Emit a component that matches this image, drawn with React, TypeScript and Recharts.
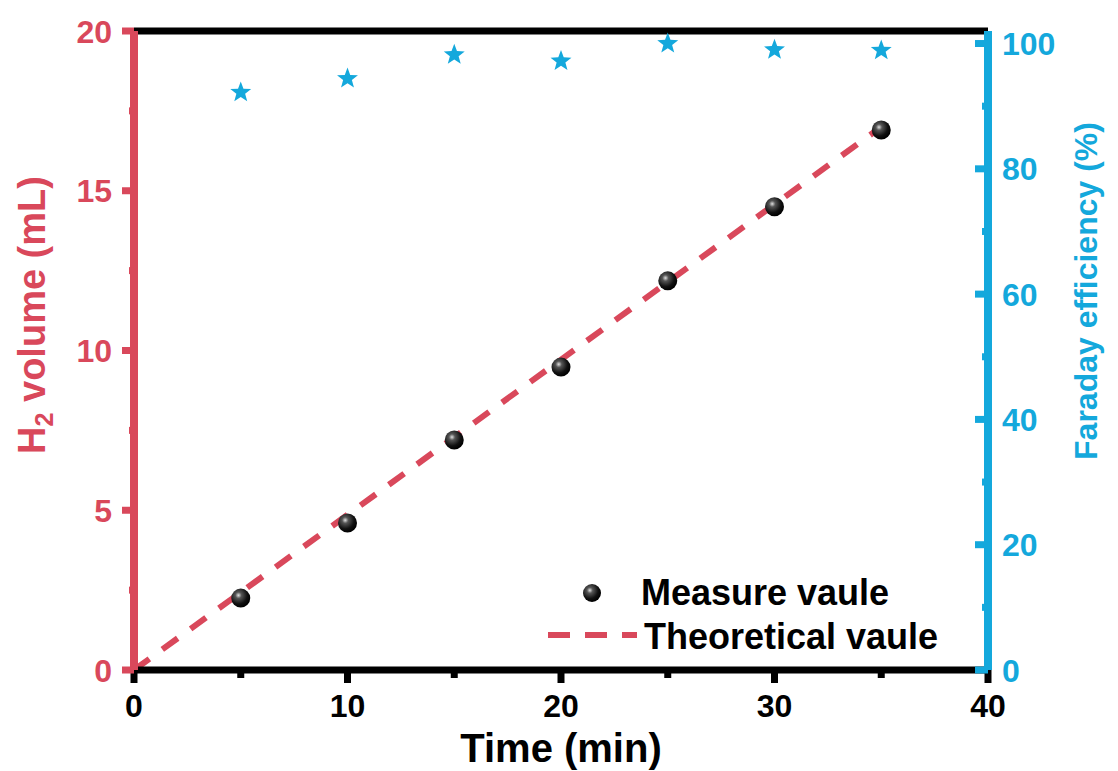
import { ComposedChart, XAxis, YAxis, Line, Scatter, ReferenceLine, Legend, Label } from 'recharts'

// time (min) for the measured points
const times = [5, 10, 15, 20, 25, 30, 35]
// H2 volume measured (mL)
const measuredVolume = [2.25, 4.6, 7.2, 9.48, 12.18, 14.5, 16.9]
// Faraday efficiency (%)
const faradayEfficiency = [92.2, 94.4, 98.2, 97.2, 100, 99.0, 98.9]
// theoretical line end points
const theoryTimes = [0, 35]
const theoryVolume = [0, 17.0]

const xTicks = [0, 5, 10, 15, 20, 25, 30, 35, 40]
const volumeTicks = [0, 2.5, 5, 7.5, 10, 12.5, 15, 17.5, 20]
const effTicks = [0, 10, 20, 30, 40, 50, 60, 70, 80, 90, 100]

const RED = '#d9485b'
const BLUE = '#14a8dc'
const FONT = '"Liberation Sans", Arial, sans-serif'

const measuredData = times.map((t, i) => ({ t, v: measuredVolume[i] }))
const effData = times.map((t, i) => ({ t, fe: faradayEfficiency[i] }))
const theoryData = theoryTimes.map((t, i) => ({ t, v: theoryVolume[i] }))

function BottomTick({ x, y, payload }: any) {
  const major = payload.value % 10 === 0
  return (
    <g>
      <line x1={x} x2={x} y1={y} y2={y + (major ? 13 : 8)} stroke="#000" strokeWidth={7} />
      {major && (
        <text x={x} y={y + 47} textAnchor="middle" fontSize={32} fontWeight="bold" fontFamily={FONT} fill="#000">
          {payload.value}
        </text>
      )}
    </g>
  )
}

function LeftTick({ x, y, payload }: any) {
  const major = payload.value % 5 === 0
  return (
    <g>
      <line x1={x - (major ? 12 : 5)} x2={x} y1={y} y2={y} stroke={RED} strokeWidth={7} />
      {major && (
        <text x={x - 22} y={y} dy="0.36em" textAnchor="end" fontSize={32} fontWeight="bold" fontFamily={FONT} fill={RED}>
          {payload.value}
        </text>
      )}
    </g>
  )
}

function RightTick({ x, y, payload }: any) {
  const major = payload.value % 20 === 0
  return (
    <g>
      <line x1={x - (major ? 13 : 6)} x2={x} y1={y} y2={y} stroke={BLUE} strokeWidth={7} />
      {major && (
        <text x={x + 14} y={y} dy="0.36em" textAnchor="start" fontSize={32} fontWeight="bold" fontFamily={FONT} fill={BLUE}>
          {payload.value}
        </text>
      )}
    </g>
  )
}

function Ball({ cx, cy, r = 9.5 }: any) {
  return (
    <g>
      <defs>
        <radialGradient id="ballGrad" cx="38%" cy="35%" r="65%">
          <stop offset="0%" stopColor="#e0e0e0" />
          <stop offset="25%" stopColor="#555" />
          <stop offset="70%" stopColor="#111" />
          <stop offset="100%" stopColor="#000" />
        </radialGradient>
      </defs>
      <circle cx={cx} cy={cy} r={r} fill="url(#ballGrad)" />
    </g>
  )
}

function Star({ cx, cy }: any) {
  const pts: string[] = []
  for (let k = 0; k < 10; k++) {
    const rad = k % 2 === 0 ? 11 : 4.6
    const a = -Math.PI / 2 + (k * Math.PI) / 5
    pts.push(`${cx + rad * Math.cos(a)},${cy + rad * Math.sin(a)}`)
  }
  return <polygon points={pts.join(' ')} fill={BLUE} />
}

function LegendBox() {
  return (
    <svg width={420} height={100} style={{ overflow: 'visible' }}>
      <Ball cx={52} cy={31} r={9} />
      <text x={101} y={43} fontSize={36} fontWeight="bold" fontFamily={FONT} fill="#000">Measure vaule</text>
      <line x1={8} x2={97} y1={73} y2={73} stroke={RED} strokeWidth={6} strokeDasharray="22 15" />
      <text x={104} y={87} fontSize={36} fontWeight="bold" fontFamily={FONT} fill="#000">Theoretical vaule</text>
    </svg>
  )
}

export default function App() {
  return (
    <div style={{ position: 'absolute', left: 0, top: 0, background: '#fff' }}>
      <ComposedChart width={1118} height={771} margin={{ top: 31, right: 0, bottom: 0, left: 0 }}>
        <XAxis
          dataKey="t" type="number" domain={[0, 40]} ticks={xTicks} interval={0} height={101}
          axisLine={{ stroke: '#000', strokeWidth: 7 }} tickLine={false} tickSize={0} tickMargin={0}
          tick={<BottomTick />}
        >
          <Label content={({ viewBox }: any) => {
            const vb = viewBox || { x: 134, y: 670, width: 854 }
            return (
              <text x={vb.x + vb.width / 2} y={vb.y + 92} textAnchor="middle" fontSize={40} fontWeight="bold" fontFamily={FONT} fill="#000">
                Time (min)
              </text>
            )
          }} />
        </XAxis>
        <ReferenceLine yAxisId="left" y={20} stroke="#000" strokeWidth={7} />
        <YAxis
          yAxisId="left" orientation="left" type="number" domain={[0, 20]} ticks={volumeTicks} interval={0} width={134}
          axisLine={{ stroke: RED, strokeWidth: 8 }} tickLine={false} tickSize={0} tickMargin={0}
          tick={<LeftTick />}
        >
          <Label content={({ viewBox }: any) => {
            const vb = viewBox || { x: 0, y: 31 }
            const cx = vb.x + 45
            const cy = 315
            return (
              <text x={cx} y={cy} transform={`rotate(-90, ${cx}, ${cy})`} textAnchor="middle" fontSize={38} fontWeight="bold" fontFamily={FONT} fill={RED}>
                H<tspan dy={8} fontSize={25}>2</tspan><tspan dy={-8}> volume (mL)</tspan>
              </text>
            )
          }} />
        </YAxis>
        <YAxis
          yAxisId="right" orientation="right" type="number" domain={[0, 102]} ticks={effTicks} interval={0} width={130}
          axisLine={{ stroke: BLUE, strokeWidth: 8 }} tickLine={false} tickSize={0} tickMargin={0}
          tick={<RightTick />}
        >
          <Label content={({ viewBox }: any) => {
            const vb = viewBox || { x: 988 }
            const cx = vb.x + 109
            const cy = 291
            return (
              <text x={cx} y={cy} transform={`rotate(-90, ${cx}, ${cy})`} textAnchor="middle" fontSize={32} fontWeight="bold" fontFamily={FONT} fill={BLUE}>
                Faraday efficiency (%)
              </text>
            )
          }} />
        </YAxis>
        <Line
          yAxisId="left" data={theoryData} dataKey="v" stroke={RED} strokeWidth={6} strokeDasharray="19 16"
          dot={false} activeDot={false} isAnimationActive={false} name="Theoretical vaule"
        />
        <Scatter yAxisId="left" data={measuredData} dataKey="v" shape={<Ball />} isAnimationActive={false} name="Measure vaule" />
        <Scatter yAxisId="right" data={effData} dataKey="fe" shape={<Star />} isAnimationActive={false} name="Faraday efficiency" />
        <Legend
          layout="vertical" align="center" verticalAlign="middle"
          wrapperStyle={{ position: 'absolute', left: 540, top: 562, width: 420, height: 100 }}
          content={() => <LegendBox />}
        />
      </ComposedChart>
    </div>
  )
}
